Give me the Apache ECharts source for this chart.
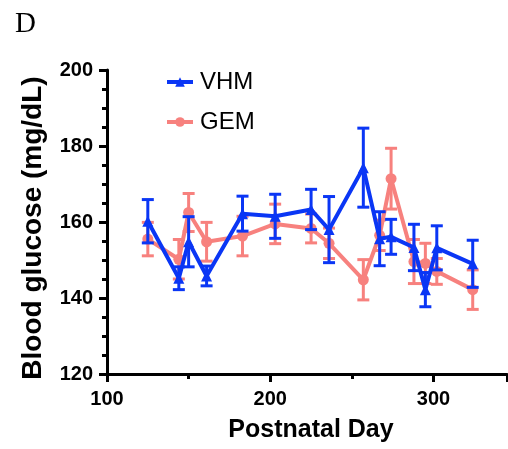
<!DOCTYPE html>
<html>
<head>
<meta charset="utf-8">
<script src="https://cdn.jsdelivr.net/npm/echarts@6/dist/echarts.min.js"></script>
<style>
html,body{margin:0;padding:0;background:#fff;}
#main{width:508px;height:449px;}
</style>
</head>
<body>
<div id="main"></div>
<script>
// ---- data ----
const days      = [125, 144, 150, 161, 183, 203, 225, 236, 257, 267, 274, 288, 295, 302, 324];
const vhmMean   = [160.2, 145.2, 154.8, 145.8, 162.2, 161.5, 163.3, 158.0, 174.3, 155.6, 156.1, 153.3, 142.2, 153.2, 149.0];
const vhmErr    = [5.7, 3.0, 6.6, 2.6, 4.6, 5.8, 5.3, 8.7, 10.4, 7.1, 4.6, 6.1, 4.5, 5.8, 6.2];
const gemMean   = [155.5, 150.2, 162.5, 154.8, 156.3, 159.5, 158.3, 154.4, 144.8, 156.5, 171.4, 149.6, 149.1, 147.0, 142.2];
const gemErr    = [4.4, 5.2, 5.0, 5.1, 5.2, 5.2, 3.8, 4.0, 5.3, 4.0, 8.0, 5.8, 5.3, 3.4, 5.2];
const xTicks    = [100, 200, 300];
const yTicks    = [120, 140, 160, 180, 200];

const BLUE = '#0a36f5';
const PINK = '#f7817e';
const FONT = '"Liberation Sans", Arial, sans-serif';

function errData(mean, err) {
  return days.map((d, i) => [d, mean[i] - err[i], mean[i] + err[i]]);
}
function errSeries(name, mean, err, color, z) {
  return {
    type: 'custom',
    name: name + '_err',
    z: z,
    silent: true,
    data: errData(mean, err),
    encode: { x: 0, y: [1, 2] },
    renderItem: function (params, api) {
      const x = api.value(0);
      const lo = api.coord([x, api.value(1)]);
      const hi = api.coord([x, api.value(2)]);
      const cap = 6;
      const style = { stroke: color, lineWidth: 3, fill: null };
      return {
        type: 'group',
        children: [
          { type: 'line', shape: { x1: lo[0], y1: lo[1], x2: hi[0], y2: hi[1] }, style: style },
          { type: 'line', shape: { x1: lo[0] - cap, y1: lo[1], x2: lo[0] + cap, y2: lo[1] }, style: style },
          { type: 'line', shape: { x1: hi[0] - cap, y1: hi[1], x2: hi[0] + cap, y2: hi[1] }, style: style }
        ]
      };
    }
  };
}

const chart = echarts.init(document.getElementById('main'), null, { renderer: 'canvas' });
const axisLineStyle = { color: '#000', width: 3 };
const legendCommon = {
  orient: 'vertical', itemWidth: 26, itemHeight: 12, padding: 0,
  lineStyle: { width: 4 },
  textStyle: { fontFamily: FONT, fontSize: 24, color: '#000', padding: [0, 0, 0, 2] }
};
chart.setOption({
  animation: false,
  backgroundColor: '#fff',
  textStyle: { fontFamily: FONT },
  title: {
    text: 'D', left: 10, top: 5,
    textStyle: { fontFamily: '"Liberation Serif", "Times New Roman", serif', fontWeight: 'normal', fontSize: 29, color: '#000' }
  },
  grid: { left: 107, right: 1, top: 70, bottom: 75, containLabel: false },
  legend: [
    Object.assign({ data: ['VHM'], left: 165, top: 70 }, legendCommon),
    Object.assign({ data: ['GEM'], left: 165, top: 110 }, legendCommon)
  ],
  xAxis: {
    type: 'value', min: 100, max: 345, interval: 100,
    name: 'Postnatal Day', nameLocation: 'middle', nameGap: 44,
    nameTextStyle: { fontFamily: FONT, fontWeight: 'bold', fontSize: 25, color: '#000', padding: [0, 0, 0, 8] },
    axisLine: { show: true, lineStyle: axisLineStyle },
    axisTick: { show: true, length: 8, lineStyle: { color: '#000', width: 3 } },
    minorTick: { show: true, splitNumber: 2, length: 5, lineStyle: { color: '#000', width: 3 } },
    splitLine: { show: false },
    axisLabel: {
      margin: 15, fontFamily: FONT, fontWeight: 'bold', fontSize: 20, color: '#000',
      showMaxLabel: false,
      formatter: v => (xTicks.indexOf(v) >= 0 ? String(v) : '')
    }
  },
  yAxis: {
    type: 'value', min: 120, max: 200, interval: 20,
    name: 'Blood glucose (mg/dL)', nameLocation: 'middle', nameGap: 60,
    nameTextStyle: { fontFamily: FONT, fontWeight: 'bold', fontSize: 28, color: '#000', padding: [0, 12, 0, 0] },
    axisLine: { show: true, lineStyle: axisLineStyle },
    axisTick: { show: true, length: 8, lineStyle: { color: '#000', width: 3 } },
    minorTick: { show: true, splitNumber: 4, length: 5, lineStyle: { color: '#000', width: 3 } },
    splitLine: { show: false },
    axisLabel: {
      margin: 14, fontFamily: FONT, fontWeight: 'bold', fontSize: 20, color: '#000',
      formatter: v => (yTicks.indexOf(v) >= 0 ? String(v) : '')
    }
  },
  series: [
    errSeries('GEM', gemMean, gemErr, PINK, 1),
    {
      name: 'GEM', type: 'line', z: 2,
      data: days.map((d, i) => [d, gemMean[i]]),
      symbol: 'circle', symbolSize: 11,
      lineStyle: { color: PINK, width: 4 },
      itemStyle: { color: PINK },
      color: PINK
    },
    errSeries('VHM', vhmMean, vhmErr, BLUE, 3),
    {
      name: 'VHM', type: 'line', z: 4,
      data: days.map((d, i) => [d, vhmMean[i]]),
      symbol: 'triangle', symbolSize: 11,
      lineStyle: { color: BLUE, width: 4 },
      itemStyle: { color: BLUE },
      color: BLUE
    }
  ]
});
</script>
</body>
</html>
